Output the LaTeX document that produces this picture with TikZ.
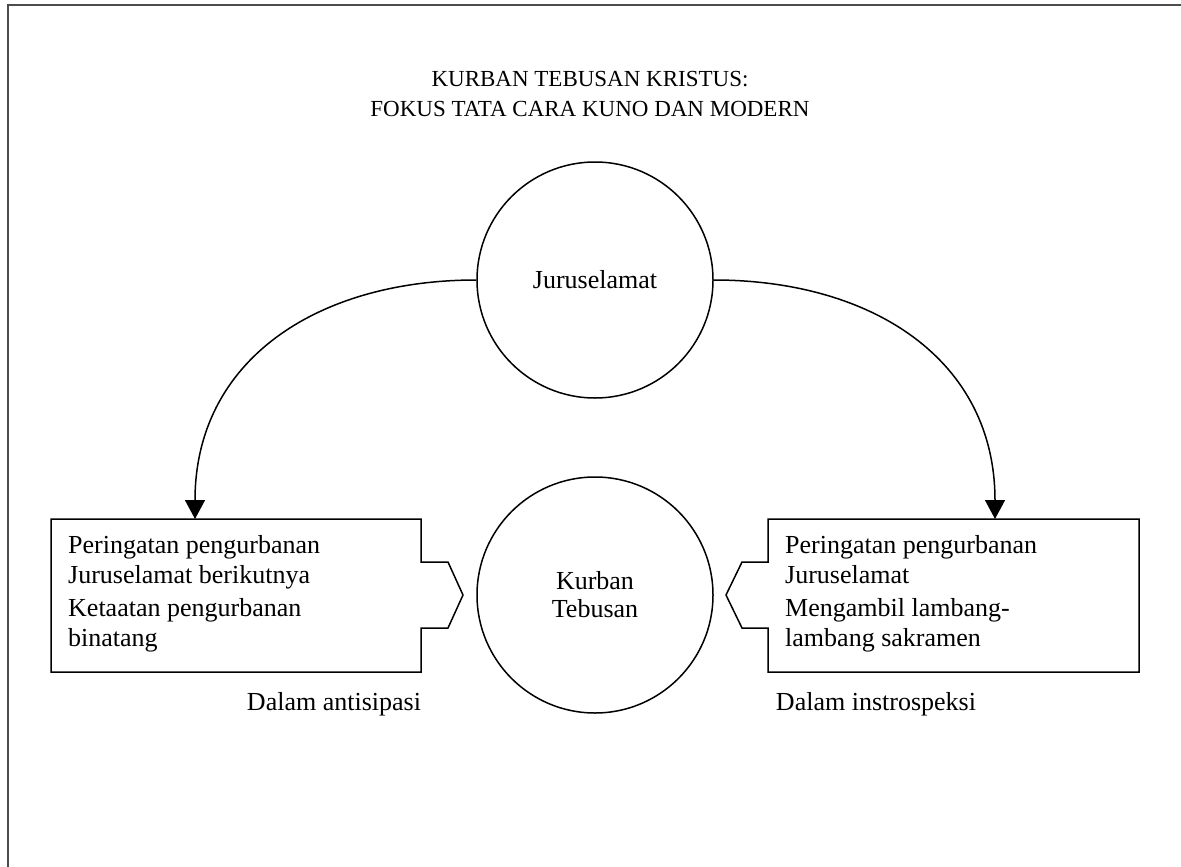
\documentclass[tikz,border=0pt]{standalone}
\usepackage{fontspec}
\setmainfont{Liberation Serif}
\usetikzlibrary{arrows.meta}
\begin{document}
\begin{tikzpicture}[x=1pt,y=-1pt,
  outline/.style={line width=1.5pt, black, line join=miter},
  circ/.style={circle, draw, line width=1.5pt, minimum size=236pt, inner sep=0pt,
    font=\fontsize{26}{28}\selectfont, align=center},
  body/.style={font=\fontsize{26}{30}\selectfont, align=left, inner sep=0pt, anchor=base west},
  caption/.style={font=\fontsize{26}{30}\selectfont, inner sep=0pt, anchor=base},
  conn/.style={line width=1.5pt, -{Triangle[width=20pt,length=19pt]}},
]
\useasboundingbox (0,0) rectangle (1181,867);

% page frame (top and left rules)
\draw[line width=2pt, black!70] (8,867) -- (8,5) -- (1181,5);

% heading (anchored on the baseline of its second line)
\node[font=\fontsize{23}{30}\selectfont, align=center, anchor=base, inner sep=0pt] (title) at (590,116)
  {KURBAN TEBUSAN KRISTUS:\\FOKUS TATA CARA KUNO DAN MODERN};

% the two circles
\node[circ] (savior) at (595,280) {Juruselamat};
\node[circ] (ransom) at (595,595) {Kurban\\Tebusan};

% left panel with notch pointing at the lower circle
\draw[outline] (421,519) -- (51,519) -- (51,672) -- (421,672) -- (421,628)
  -- (448,628) -- (463,595) -- (448,562) -- (421,562) -- cycle;
% right panel with notch pointing at the lower circle
\draw[outline] (768,519) -- (1139,519) -- (1139,672) -- (768,672) -- (768,628)
  -- (742,628) -- (726,595) -- (742,562) -- (768,562) -- cycle;

% panel texts (anchored on the baseline of each block's last line)
\node[body] (lp1) at (68,583) {Peringatan pengurbanan\\Juruselamat berikutnya};
\node[body] (lp2) at (68,646) {Ketaatan pengurbanan\\binatang};
\node[body] (rp1) at (785,583) {Peringatan pengurbanan\\Juruselamat};
\node[body] (rp2) at (785,646) {Mengambil lambang-\\lambang sakramen};

% captions below the panels
\node[caption] (lcap) at (334,710) {Dalam antisipasi};
\node[caption] (rcap) at (876,710) {Dalam instrospeksi};

% arrows from the upper circle down to the panels
\coordinate (ltip) at (195,519);
\coordinate (rtip) at (995,519);
\draw[conn] (savior.west) to[out=180,in=90,looseness=1.1] (ltip);
\draw[conn] (savior.east) to[out=0,in=90,looseness=1.1] (rtip);
\end{tikzpicture}
\end{document}
